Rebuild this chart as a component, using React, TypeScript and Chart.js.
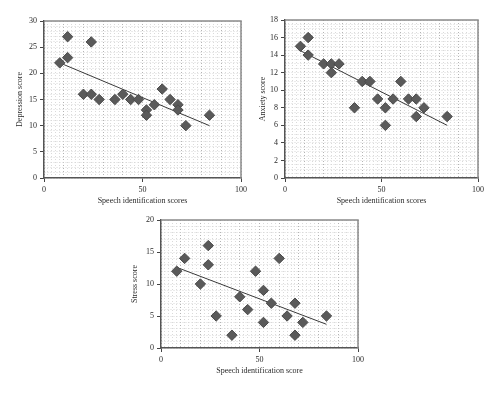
import React, { useEffect, useRef } from "react";
import { Chart, registerables } from "chart.js";

Chart.register(...registerables);

// ---- Data ----
const speechScoresA = [8, 12, 12, 24, 20, 24, 28, 36, 40, 44, 48, 52, 52, 56, 60, 64, 68, 68, 72, 84];
const depressionScores = [22, 27, 23, 26, 16, 16, 15, 15, 16, 15, 15, 13, 12, 14, 17, 15, 14, 13, 10, 12];

const speechScoresB = [8, 12, 12, 20, 24, 24, 28, 36, 40, 44, 48, 52, 52, 56, 60, 64, 68, 68, 72, 84];
const anxietyScores = [15, 16, 14, 13, 13, 12, 13, 8, 11, 11, 9, 8, 6, 9, 11, 9, 9, 7, 8, 7];

const speechScoresC = [8, 12, 20, 24, 24, 28, 36, 40, 44, 48, 52, 52, 56, 60, 64, 68, 68, 72, 84];
const stressScores = [12, 14, 10, 16, 13, 5, 2, 8, 6, 12, 9, 4, 7, 14, 5, 7, 2, 4, 5];

const trendX = [8, 84];
const depressionTrend = [22, 10];
const anxietyTrend = [14.5, 6];
const stressTrend = [12.6, 3.7];

const xTickLabels = [0, 50, 100];

const FONT = "'Liberation Serif', 'DejaVu Serif', serif";
const TEXT = "#2a2a2a";

const framePlugin = {
  id: "frameTR",
  afterDraw(chart: any) {
    const { ctx, chartArea } = chart;
    ctx.save();
    ctx.strokeStyle = "#8a8a8a";
    ctx.lineWidth = 1.5;
    ctx.beginPath();
    ctx.moveTo(chartArea.left, chartArea.top);
    ctx.lineTo(chartArea.right, chartArea.top);
    ctx.lineTo(chartArea.right, chartArea.bottom);
    ctx.stroke();
    ctx.restore();
  },
};

type PanelProps = {
  left: number;
  top: number;
  width: number;
  height: number;
  pad: { left: number; right: number; top: number; bottom: number };
  yAxisWidth: number;
  xs: number[];
  ys: number[];
  trend: number[];
  yMax: number;
  yMinor: number;
  yMajor: number;
  yTitle: string;
  xTitle: string;
};

function isMult(v: number, m: number) {
  return Math.abs(v / m - Math.round(v / m)) < 1e-6;
}

function Panel(p: PanelProps) {
  const ref = useRef<HTMLCanvasElement>(null);
  useEffect(() => {
    if (!ref.current) return;
    const points = p.xs.map((x, i) => ({ x, y: p.ys[i] }));
    const trendPts = trendX.map((x, i) => ({ x, y: p.trend[i] }));
    const chart = new Chart(ref.current, {
      type: "scatter",
      data: {
        datasets: [
          {
            data: trendPts,
            showLine: true,
            borderColor: "#3a3a3a",
            borderWidth: 1,
            pointRadius: 0,
            order: 1,
          },
          {
            data: points,
            pointStyle: "rectRot",
            pointRadius: 5.2,
            backgroundColor: "#5a5a5a",
            borderColor: "#4a4a4a",
            borderWidth: 1,
            order: 0,
          },
        ],
      },
      options: {
        animation: false,
        responsive: false,
        devicePixelRatio: 1,
        layout: { padding: p.pad },
        plugins: { legend: { display: false }, tooltip: { enabled: false } },
        scales: {
          x: {
            type: "linear",
            min: 0,
            max: 100,
            afterFit: (s: any) => {
              s.height = 32;
            },
            ticks: {
              stepSize: 2,
              autoSkip: false,
              maxRotation: 0,
              padding: 3,
              color: TEXT,
              font: { family: FONT, size: 8 },
              callback: (v: any) => (xTickLabels.includes(Number(v)) ? String(v) : ""),
            },
            grid: {
              color: (c: any) => {
                const v = c.tick ? c.tick.value : 0;
                return isMult(v, 10) ? "#b4b4b4" : "#dadada";
              },
              tickColor: (c: any) => {
                const v = c.tick ? c.tick.value : 0;
                return xTickLabels.includes(v) ? "#444" : "rgba(0,0,0,0)";
              },
              tickLength: 4,
              lineWidth: 1,
            },
            border: { color: "#555", width: 1.5, dash: [1, 2] },
            title: {
              display: true,
              text: p.xTitle,
              color: TEXT,
              font: { family: FONT, size: 8 },
            },
          },
          y: {
            type: "linear",
            min: 0,
            max: p.yMax,
            afterFit: (s: any) => {
              s.width = p.yAxisWidth;
            },
            ticks: {
              stepSize: p.yMinor,
              autoSkip: false,
              padding: 3,
              color: TEXT,
              font: { family: FONT, size: 8 },
              callback: (v: any) => (isMult(Number(v), p.yMajor) ? String(Math.round(Number(v))) : ""),
            },
            grid: {
              color: "#d8d8d8",
              tickColor: (c: any) => {
                const v = c.tick ? c.tick.value : 0;
                return isMult(v, p.yMajor) ? "#444" : "rgba(0,0,0,0)";
              },
              tickLength: 4,
              lineWidth: 1,
            },
            border: { color: "#555", width: 1.5, dash: [1, 2] },
            title: {
              display: true,
              text: p.yTitle,
              color: TEXT,
              font: { family: FONT, size: 8 },
            },
          },
        },
      },
      plugins: [framePlugin],
    } as any);
    return () => chart.destroy();
  }, []);
  return (
    <canvas
      ref={ref}
      width={p.width}
      height={p.height}
      style={{ position: "absolute", left: p.left, top: p.top, width: p.width, height: p.height }}
    />
  );
}

export default function App() {
  return (
    <div
      style={{
        position: "fixed",
        left: 0,
        top: 0,
        width: 500,
        height: 393,
        background: "#fff",
        overflow: "hidden",
      }}
    >
      <Panel
        left={0}
        top={0}
        width={250}
        height={210}
        pad={{ left: 11, right: 8, top: 21, bottom: 0 }}
        yAxisWidth={33}
        xs={speechScoresA}
        ys={depressionScores}
        trend={depressionTrend}
        yMax={30}
        yMinor={1}
        yMajor={5}
        yTitle="Depression score"
        xTitle="Speech identification scores"
      />
      <Panel
        left={250}
        top={0}
        width={250}
        height={210}
        pad={{ left: 4, right: 22, top: 20, bottom: 0 }}
        yAxisWidth={31}
        xs={speechScoresB}
        ys={anxietyScores}
        trend={anxietyTrend}
        yMax={18}
        yMinor={0.5}
        yMajor={2}
        yTitle="Anxiety score"
        xTitle="Speech identification scores"
      />
      <Panel
        left={120}
        top={200}
        width={250}
        height={180}
        pad={{ left: 6, right: 12, top: 20, bottom: 0 }}
        yAxisWidth={35}
        xs={speechScoresC}
        ys={stressScores}
        trend={stressTrend}
        yMax={20}
        yMinor={1}
        yMajor={5}
        yTitle="Stress score"
        xTitle="Speech identification score"
      />
    </div>
  );
}
